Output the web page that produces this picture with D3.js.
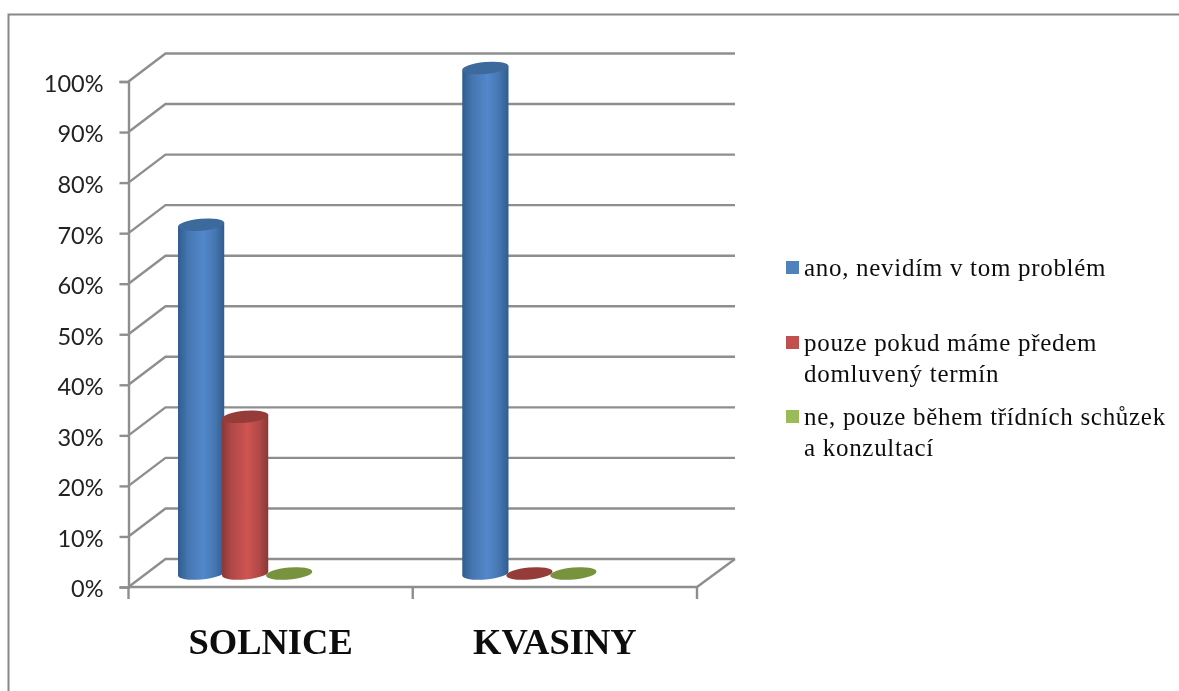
<!DOCTYPE html>
<html><head><meta charset="utf-8">
<script src="https://cdnjs.cloudflare.com/ajax/libs/d3/7.8.5/d3.min.js"></script>
<style>html,body{margin:0;padding:0;background:#fff;overflow:hidden}svg{display:block}</style>
</head><body><svg id="c" width="1179" height="691"></svg>
<script>
const categories = ["SOLNICE", "KVASINY"];
const seriesNames = ["ano, nevidím v tom problém", "pouze pokud máme předem domluvený termín", "ne, pouze během třídních schůzek a konzultací"];
const legendLines = [["ano, nevidím v tom problém"], ["pouze pokud máme předem", "domluvený termín"], ["ne, pouze během třídních schůzek", "a konzultací"]];
const anoValues = [69, 100];
const pouzeValues = [31, 0];
const neValues = [0, 0];
const yTicks = [0,10,20,30,40,50,60,70,80,90,100];
const seriesValues = [anoValues, pouzeValues, neValues];
const colors = [
  {edge:"#2f5c90", near:"#4676b0", mid:"#5288cc", cap:"#3e6a9c", key:"#4f81bd"},
  {edge:"#8a3836", near:"#b04a48", mid:"#cf5452", cap:"#953a38", key:"#c0504d"},
  {edge:"#6a8535", near:"#86a24c", mid:"#9bbb59", cap:"#77933c", key:"#9bbb59"}
];

const svg = d3.select("#c");
const defs = svg.append("defs");
defs.append("filter").attr("id","soft").attr("x","-5%").attr("y","-5%").attr("width","110%").attr("height","110%")
  .append("feGaussianBlur").attr("stdDeviation",0.55);
colors.forEach((c,i)=>{
  const g = defs.append("linearGradient").attr("id","g"+i);
  g.append("stop").attr("offset","0%").attr("stop-color",c.edge);
  g.append("stop").attr("offset","22%").attr("stop-color",c.near);
  g.append("stop").attr("offset","55%").attr("stop-color",c.mid);
  g.append("stop").attr("offset","80%").attr("stop-color",c.near);
  g.append("stop").attr("offset","100%").attr("stop-color",c.edge);
});

const root = svg.append("g").attr("filter","url(#soft)");
const grey = "#8e8e8e";
const left = 128.5, right = 697, depthX = 37, depthY = 28;
const y = d3.scaleLinear().domain([0,100]).range([587,81.5]);
const x = d3.scaleBand().domain(categories).range([left,right]);
const xs = d3.scaleBand().domain(seriesNames).range([0,132]);

// outer frame
root.append("path").attr("d","M8.5,691V14.5H1179").attr("fill","none").attr("stroke","#888").attr("stroke-width",2);

// walls
const grid = root.append("g").attr("fill","none").attr("stroke",grey).attr("stroke-width",2.4);
grid.selectAll("path.w").data(yTicks).join("path").attr("class","w")
  .attr("d",v=>`M${left},${y(v)}L${left+depthX},${y(v)-depthY}H${right+depthX+1}`);
grid.append("path").attr("d",`M${right},${y(0)}L${right+depthX+1},${y(0)-depthY}`);

// y axis
const yAxis = root.append("g").attr("transform",`translate(${left},0)`)
  .call(d3.axisLeft(y).tickValues(yTicks).tickFormat(d=>d+"%").tickSize(9).tickPadding(16));
yAxis.selectAll("line,path").attr("stroke",grey).attr("stroke-width",2.4);
yAxis.selectAll("text").attr("font-family","Lato").attr("font-size",23.5).attr("fill","#222").attr("dy","0.42em");

// x axis
root.append("line").attr("x1",left).attr("x2",right).attr("y1",y(0)).attr("y2",y(0)).attr("stroke",grey).attr("stroke-width",2.4);
root.selectAll("line.cat").data(d3.range(categories.length+1)).join("line").attr("class","cat")
  .attr("x1",i=>left+i*x.step()).attr("x2",i=>left+i*x.step())
  .attr("y1",y(0)).attr("y2",y(0)+12).attr("stroke",grey).attr("stroke-width",2.4);
const xAxis = root.append("g").attr("transform",`translate(0,${y(0)})`)
  .call(d3.axisBottom(x).tickSize(0).tickPadding(41));
xAxis.select("path").remove();
xAxis.selectAll("text").attr("font-family","'Liberation Serif'").attr("font-weight","bold").attr("font-size",36.5).attr("fill","#111");

// cylinders
const rx = 23.2, ry = 6, tilt = 5;
const sin = Math.sin(tilt*Math.PI/180), cos = Math.cos(tilt*Math.PI/180);
const groupStart = -91.5, baseOffset = -13.5;
const cells = [];
categories.forEach((c,ci)=>seriesNames.forEach((s,si)=>cells.push({c,s,si,v:seriesValues[si][ci]})));
const cyl = root.selectAll("g.cyl").data(cells).join("g").attr("class","cyl");
cyl.each(function(d){
  const g = d3.select(this);
  const cx = x(d.c)+x.bandwidth()/2+groupStart+xs(d.s)+xs.bandwidth()/2;
  const yb = y(0)+baseOffset, yt = y(d.v)+baseOffset;
  const dx = rx*cos, dy = rx*sin;
  if(d.v>0){
    g.append("path").attr("fill",`url(#g${d.si})`)
     .attr("d",`M${cx-dx},${yt+dy}L${cx-dx},${yb+dy}A${rx},${ry} ${-tilt} 0 0 ${cx+dx},${yb-dy}L${cx+dx},${yt-dy}Z`);
  }
  g.append("ellipse").attr("cx",cx).attr("cy",yt).attr("rx",rx).attr("ry",ry)
   .attr("transform",`rotate(${-tilt} ${cx} ${yt})`).attr("fill",colors[d.si].cap);
});

// legend
const legendY = [267, 342, 416];
const lg = root.append("g");
legendLines.forEach((lines,i)=>{
  lg.append("rect").attr("x",786).attr("y",legendY[i]-6).attr("width",13).attr("height",13).attr("fill",colors[i].key);
  lines.forEach((t,j)=>{
    lg.append("text").attr("x",804).attr("y",legendY[i]+9+j*30.5)
      .attr("font-family","'Liberation Serif'").attr("font-size",25).attr("letter-spacing",0.7).attr("fill","#111").text(t);
  });
});
</script></body></html>
